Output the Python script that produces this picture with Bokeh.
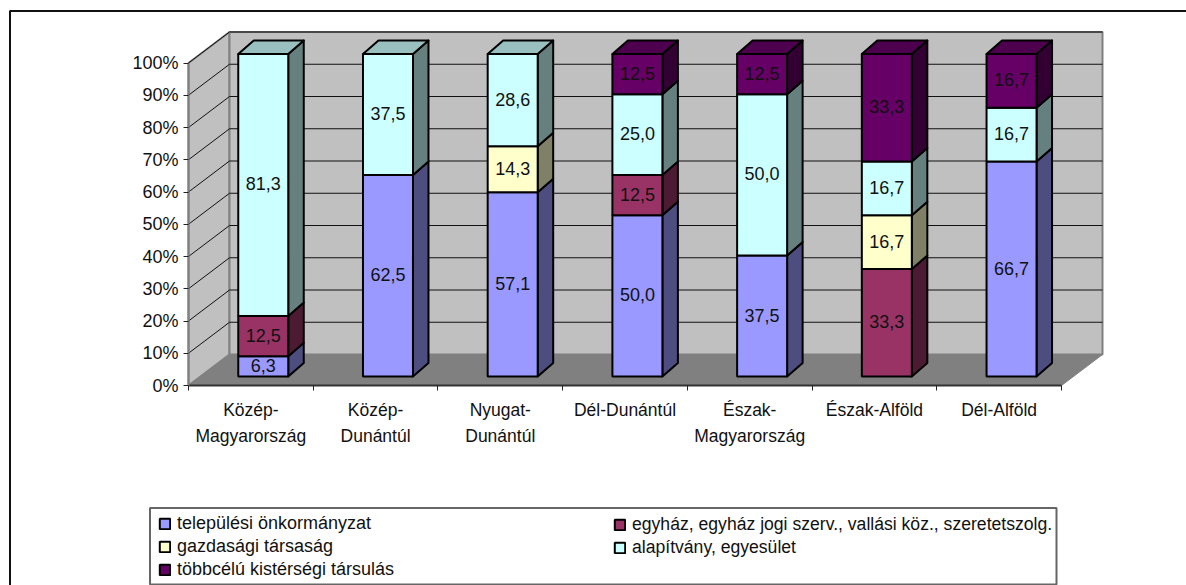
from bokeh.plotting import figure
from bokeh.embed import file_html
from bokeh.resources import INLINE
from bokeh.core.properties import value
from bokeh.models import Range1d, FixedTicker, Legend, LegendItem

categories = ["Közép-\nMagyarország", "Közép-\nDunántúl", "Nyugat-\nDunántúl", "Dél-Dunántúl",
              "Észak-\nMagyarország", "Észak-Alföld", "Dél-Alföld"]
series_names = ["települési önkormányzat", "egyház, egyház jogi szerv., vallási köz., szeretetszolg.",
                "gazdasági társaság", "alapítvány, egyesület", "többcélú kistérségi társulás"]
onkormanyzat = [6.3, 62.5, 57.1, 50.0, 37.5, 0, 66.7]
egyhaz = [12.5, 0, 0, 12.5, 0, 33.3, 0]
gazdasagi = [0, 0, 14.3, 0, 0, 16.7, 0]
alapitvany = [81.3, 37.5, 28.6, 25.0, 50.0, 16.7, 16.7]
tobbcelu = [0, 0, 0, 12.5, 12.5, 33.3, 16.7]
series = [onkormanyzat, egyhaz, gazdasagi, alapitvany, tobbcelu]
y_ticks = [0, 10, 20, 30, 40, 50, 60, 70, 80, 90, 100]

front = ["#9999FF", "#993366", "#FFFFCC", "#CCFFFF", "#660066"]
side = ["#4D4D80", "#4D1A33", "#808066", "#668080", "#330033"]
top = ["#7373BF", "#73264D", "#BFBF99", "#99BFBF", "#4D004D"]

FONT = "Liberation Sans"
TEXT = "#111111"
W, H = 1186, 585
AX_LEFT, AX_BOTTOM = 188, 385   # page position of the chart's origin
PX_X = 873 / 7      # pixels per category
PX_Y = 322.5 / 100  # pixels per percent
WALL_DX, WALL_DY = 41 / PX_X, 31 / PX_Y
BAR_W = 50 / PX_X
BAR_DX, BAR_DY = 15.5 / PX_X, 13.5 / PX_Y
BAR_OFF_X, BAR_OFF_Y = 12.4 / PX_X, 9 / PX_Y


def px(x):
    return (x - AX_LEFT) / PX_X


def py(y):
    return (AX_BOTTOM - y) / PX_Y


x_max = 7 + WALL_DX
y_max = 100 + WALL_DY
p = figure(width=W, height=H, output_backend="svg", toolbar_location=None,
           x_range=Range1d(px(0), px(W)), y_range=Range1d(py(H), py(0)),
           min_border=0)
p.outline_line_color = None
p.grid.visible = False
p.background_fill_color = "white"

# outer frame: only its left and top edges are inside the page
p.line([px(9.5), px(9.5), px(W)], [py(H), py(10.5), py(10.5)], line_color="#111111", line_width=2)

# walls and floor
p.patch([0, WALL_DX, WALL_DX, 0], [0, WALL_DY, y_max, 100], fill_color="#C0C0C0", line_color="#808080", line_width=2)
p.quad(left=WALL_DX, right=x_max, bottom=WALL_DY, top=y_max, fill_color="#C0C0C0", line_color="#808080", line_width=2)
p.patch([0, 7, x_max, WALL_DX], [0, 0, WALL_DY, WALL_DY], fill_color="#808080", line_color="#808080", line_width=1)

# grid lines on walls
for v in y_ticks[1:]:
    p.line([0, WALL_DX, x_max], [v, v + WALL_DY, v + WALL_DY], line_color="#111111", line_width=1)

# bars
renderers = [None] * 5
for c in range(7):
    total = sum(s[c] for s in series)
    cum = 0.0
    last = max(i for i in range(5) if series[i][c] > 0)
    x0 = c + 0.5 + BAR_OFF_X - BAR_W / 2
    x1 = x0 + BAR_W
    for i in range(5):
        val = series[i][c]
        if val <= 0:
            continue
        b = cum / total * 100 + BAR_OFF_Y
        cum += val
        t = cum / total * 100 + BAR_OFF_Y
        p.patch([x1, x1 + BAR_DX, x1 + BAR_DX, x1], [b, b + BAR_DY, t + BAR_DY, t],
                fill_color=side[i], line_color="black", line_width=2, line_join="round")
        if i == last:
            p.patch([x0, x1, x1 + BAR_DX, x0 + BAR_DX], [t, t, t + BAR_DY, t + BAR_DY],
                    fill_color=top[i], line_color="black", line_width=2, line_join="round")
        r = p.quad(left=x0, right=x1, bottom=b, top=t, fill_color=front[i], line_color="black", line_width=2)
        if renderers[i] is None:
            renderers[i] = r
        p.text(x=[(x0 + x1) / 2], y=[(b + t) / 2 + 0.3], text=[f"{val:.1f}".replace(".", ",")],
               text_font=value(FONT), text_font_size="18px", text_color=TEXT,
               text_align="center", text_baseline="middle")

# axes
yax = p.yaxis[0]
yax.fixed_location = 0
yax.ticker = FixedTicker(ticks=y_ticks)
yax.major_label_overrides = {v: f"{v}%" for v in y_ticks}
yax.bounds = (0, 100)
yax.minor_tick_line_color = None
yax.major_tick_in = 0
yax.major_tick_out = 5
yax.major_label_standoff = 5
yax.axis_line_color = "#808080"
yax.axis_line_width = 2
yax.major_tick_line_color = "#222222"
yax.major_label_text_font = FONT
yax.major_label_text_font_size = "18px"
yax.major_label_text_color = TEXT

xax = p.xaxis[0]
xax.fixed_location = 0
centers = [i + 0.5 for i in range(7)]
xax.ticker = FixedTicker(ticks=centers, minor_ticks=list(range(8)))
xax.major_label_overrides = {c: n for c, n in zip(centers, categories)}
xax.bounds = (0, 7)
xax.major_tick_line_color = None
xax.major_tick_in = 0
xax.major_tick_out = 0
xax.minor_tick_in = 0
xax.minor_tick_out = 5
xax.minor_tick_line_color = "#222222"
xax.major_label_standoff = 9
xax.axis_line_color = "#333333"
xax.axis_line_width = 2
xax.major_label_text_font = FONT
xax.major_label_text_font_size = "17.5px"
xax.major_label_text_color = TEXT
xax.major_label_text_line_height = 1.3

# legend box and its two columns
p.quad(left=px(149.5), right=px(1056), bottom=py(584), top=py(507.5), fill_color="white", line_color="#666666", line_width=2)


def column(idx, x, y, size):
    return Legend(items=[LegendItem(label=series_names[i], renderers=[renderers[i]]) for i in idx],
                  location=(x, y), orientation="vertical",
                  label_text_font=FONT, label_text_font_size=size, label_text_color=TEXT,
                  label_height=20, label_standoff=6, glyph_width=13, glyph_height=13,
                  spacing=2, padding=4, margin=0, border_line_color=None, background_fill_alpha=0)


p.add_layout(column([0, 2, 4], 158, 5, "18px"), "center")
p.add_layout(column([1, 3], 613, 27, "17.6px"), "center")

open("out.html", "w").write(file_html(p, INLINE))
